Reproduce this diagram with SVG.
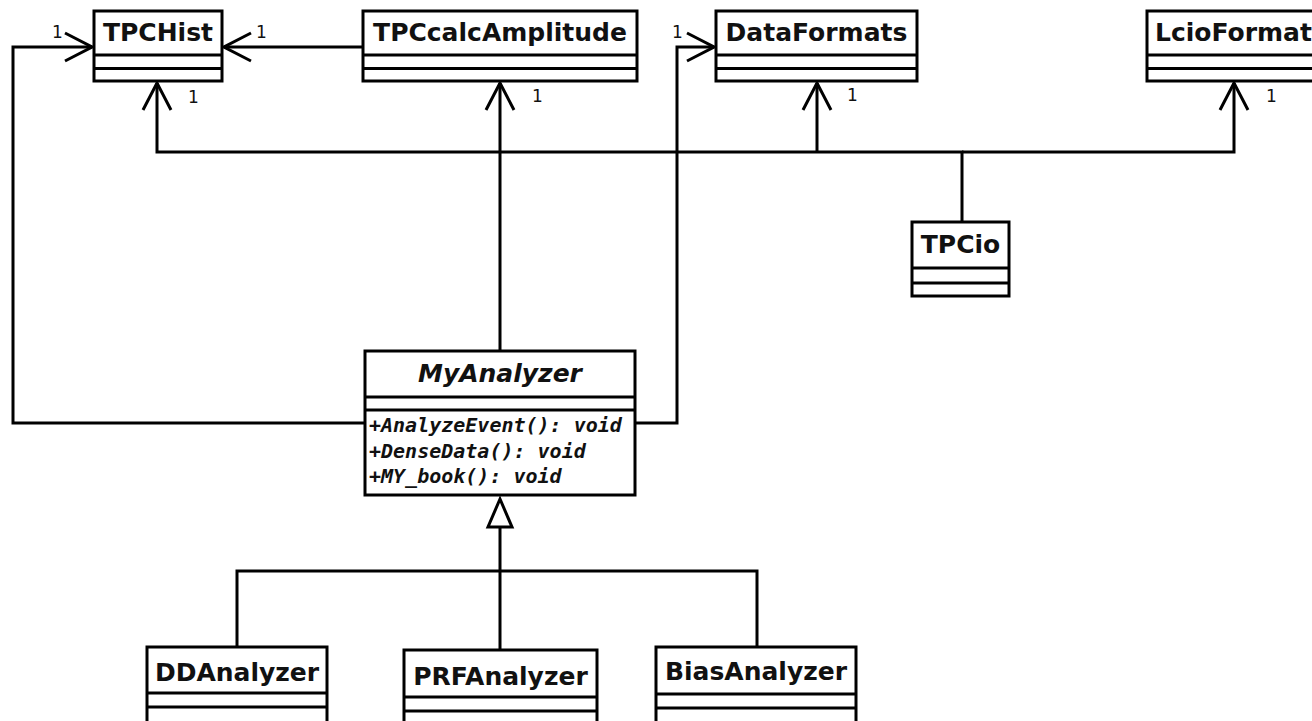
<svg xmlns="http://www.w3.org/2000/svg" width="1312" height="721" viewBox="0 0 1312 721">
<style>
.box{fill:#fff;stroke:#000;stroke-width:3}
.div{stroke:#000;stroke-width:3}
.name{font-family:"DejaVu Sans",sans-serif;font-weight:bold;font-size:25px;text-anchor:middle;fill:#111}
.abs{font-style:italic}
.op{font-family:"DejaVu Sans Mono",monospace;font-weight:bold;font-style:italic;font-size:20px;fill:#111}
.mult{font-family:"DejaVu Sans",sans-serif;font-size:17px;fill:#111}
.c{fill:none;stroke:#000;stroke-width:3}
</style>
<defs>
<marker id="open" viewBox="-30 -16 32 32" refX="0" refY="0" markerWidth="32" markerHeight="32" markerUnits="userSpaceOnUse" orient="auto">
<path d="M-27,-14 L0,0 L-27,14" fill="none" stroke="#000" stroke-width="3"/>
</marker>
</defs>
<rect width="1312" height="721" fill="#fff"/>
<g id="connectors">
<polyline class="c" points="365,423 13,423 13,47 92,47" marker-end="url(#open)"/>
<polyline class="c" points="363,47 224,47" marker-end="url(#open)"/>
<polyline class="c" points="962,222 962,152 157,152 157,83" marker-end="url(#open)"/>
<polyline class="c" points="962,152 1234,152 1234,83" marker-end="url(#open)"/>
<polyline class="c" points="817,152 817,83" marker-end="url(#open)"/>
<polyline class="c" points="500,351 500,83" marker-end="url(#open)"/>
<polyline class="c" points="635,423 677,423 677,47 714,47" marker-end="url(#open)"/>
<polyline class="c" points="500,527 500,650"/>
<polyline class="c" points="237,647 237,571 757,571 757,647"/>
<polygon points="500,499 488,527 512,527" fill="#fff" stroke="#000" stroke-width="3"/>
<text class="mult" x="52" y="38">1</text>
<text class="mult" x="256" y="38">1</text>
<text class="mult" x="188" y="103">1</text>
<text class="mult" x="532" y="102">1</text>
<text class="mult" x="672" y="38">1</text>
<text class="mult" x="847" y="101">1</text>
<text class="mult" x="1266" y="102">1</text>
</g>
<g id="TPCHist">
<rect class="box" x="94" y="11" width="128" height="70"/>
<line class="div" x1="94" y1="55" x2="222" y2="55"/>
<line class="div" x1="94" y1="68.5" x2="222" y2="68.5"/>
<text class="name" x="158" y="41">TPCHist</text>
</g>
<g id="TPCcalcAmplitude">
<rect class="box" x="363" y="11" width="274" height="70"/>
<line class="div" x1="363" y1="55" x2="637" y2="55"/>
<line class="div" x1="363" y1="68.5" x2="637" y2="68.5"/>
<text class="name" x="500" y="41">TPCcalcAmplitude</text>
</g>
<g id="DataFormats">
<rect class="box" x="716" y="11" width="201" height="70"/>
<line class="div" x1="716" y1="55" x2="917" y2="55"/>
<line class="div" x1="716" y1="68.5" x2="917" y2="68.5"/>
<text class="name" x="816.5" y="41">DataFormats</text>
</g>
<g id="LcioFormat">
<rect class="box" x="1147" y="11" width="180" height="70"/>
<line class="div" x1="1147" y1="55" x2="1327" y2="55"/>
<line class="div" x1="1147" y1="68.5" x2="1327" y2="68.5"/>
<text class="name" x="1155" y="41" style="text-anchor:start">LcioFormat</text>
</g>
<g id="TPCio">
<rect class="box" x="912" y="222" width="97" height="74"/>
<line class="div" x1="912" y1="268" x2="1009" y2="268"/>
<line class="div" x1="912" y1="283" x2="1009" y2="283"/>
<text class="name" x="960.5" y="253">TPCio</text>
</g>
<g id="MyAnalyzer">
<rect class="box" x="365" y="351" width="270" height="144"/>
<line class="div" x1="365" y1="397" x2="635" y2="397"/>
<line class="div" x1="365" y1="410" x2="635" y2="410"/>
<text class="name abs" x="500" y="382">MyAnalyzer</text>
<text class="op" x="369" y="432">+AnalyzeEvent(): void</text>
<text class="op" x="369" y="458">+DenseData(): void</text>
<text class="op" x="369" y="483">+MY_book(): void</text>
</g>
<g id="DDAnalyzer">
<rect class="box" x="147" y="647" width="180" height="80"/>
<line class="div" x1="147" y1="693" x2="327" y2="693"/>
<line class="div" x1="147" y1="707" x2="327" y2="707"/>
<text class="name" x="237" y="681">DDAnalyzer</text>
</g>
<g id="PRFAnalyzer">
<rect class="box" x="404" y="650" width="193" height="80"/>
<line class="div" x1="404" y1="697" x2="597" y2="697"/>
<line class="div" x1="404" y1="711" x2="597" y2="711"/>
<text class="name" x="500.5" y="685">PRFAnalyzer</text>
</g>
<g id="BiasAnalyzer">
<rect class="box" x="656" y="647" width="200" height="80"/>
<line class="div" x1="656" y1="694" x2="856" y2="694"/>
<line class="div" x1="656" y1="708" x2="856" y2="708"/>
<text class="name" x="756" y="680">BiasAnalyzer</text>
</g>
</svg>
